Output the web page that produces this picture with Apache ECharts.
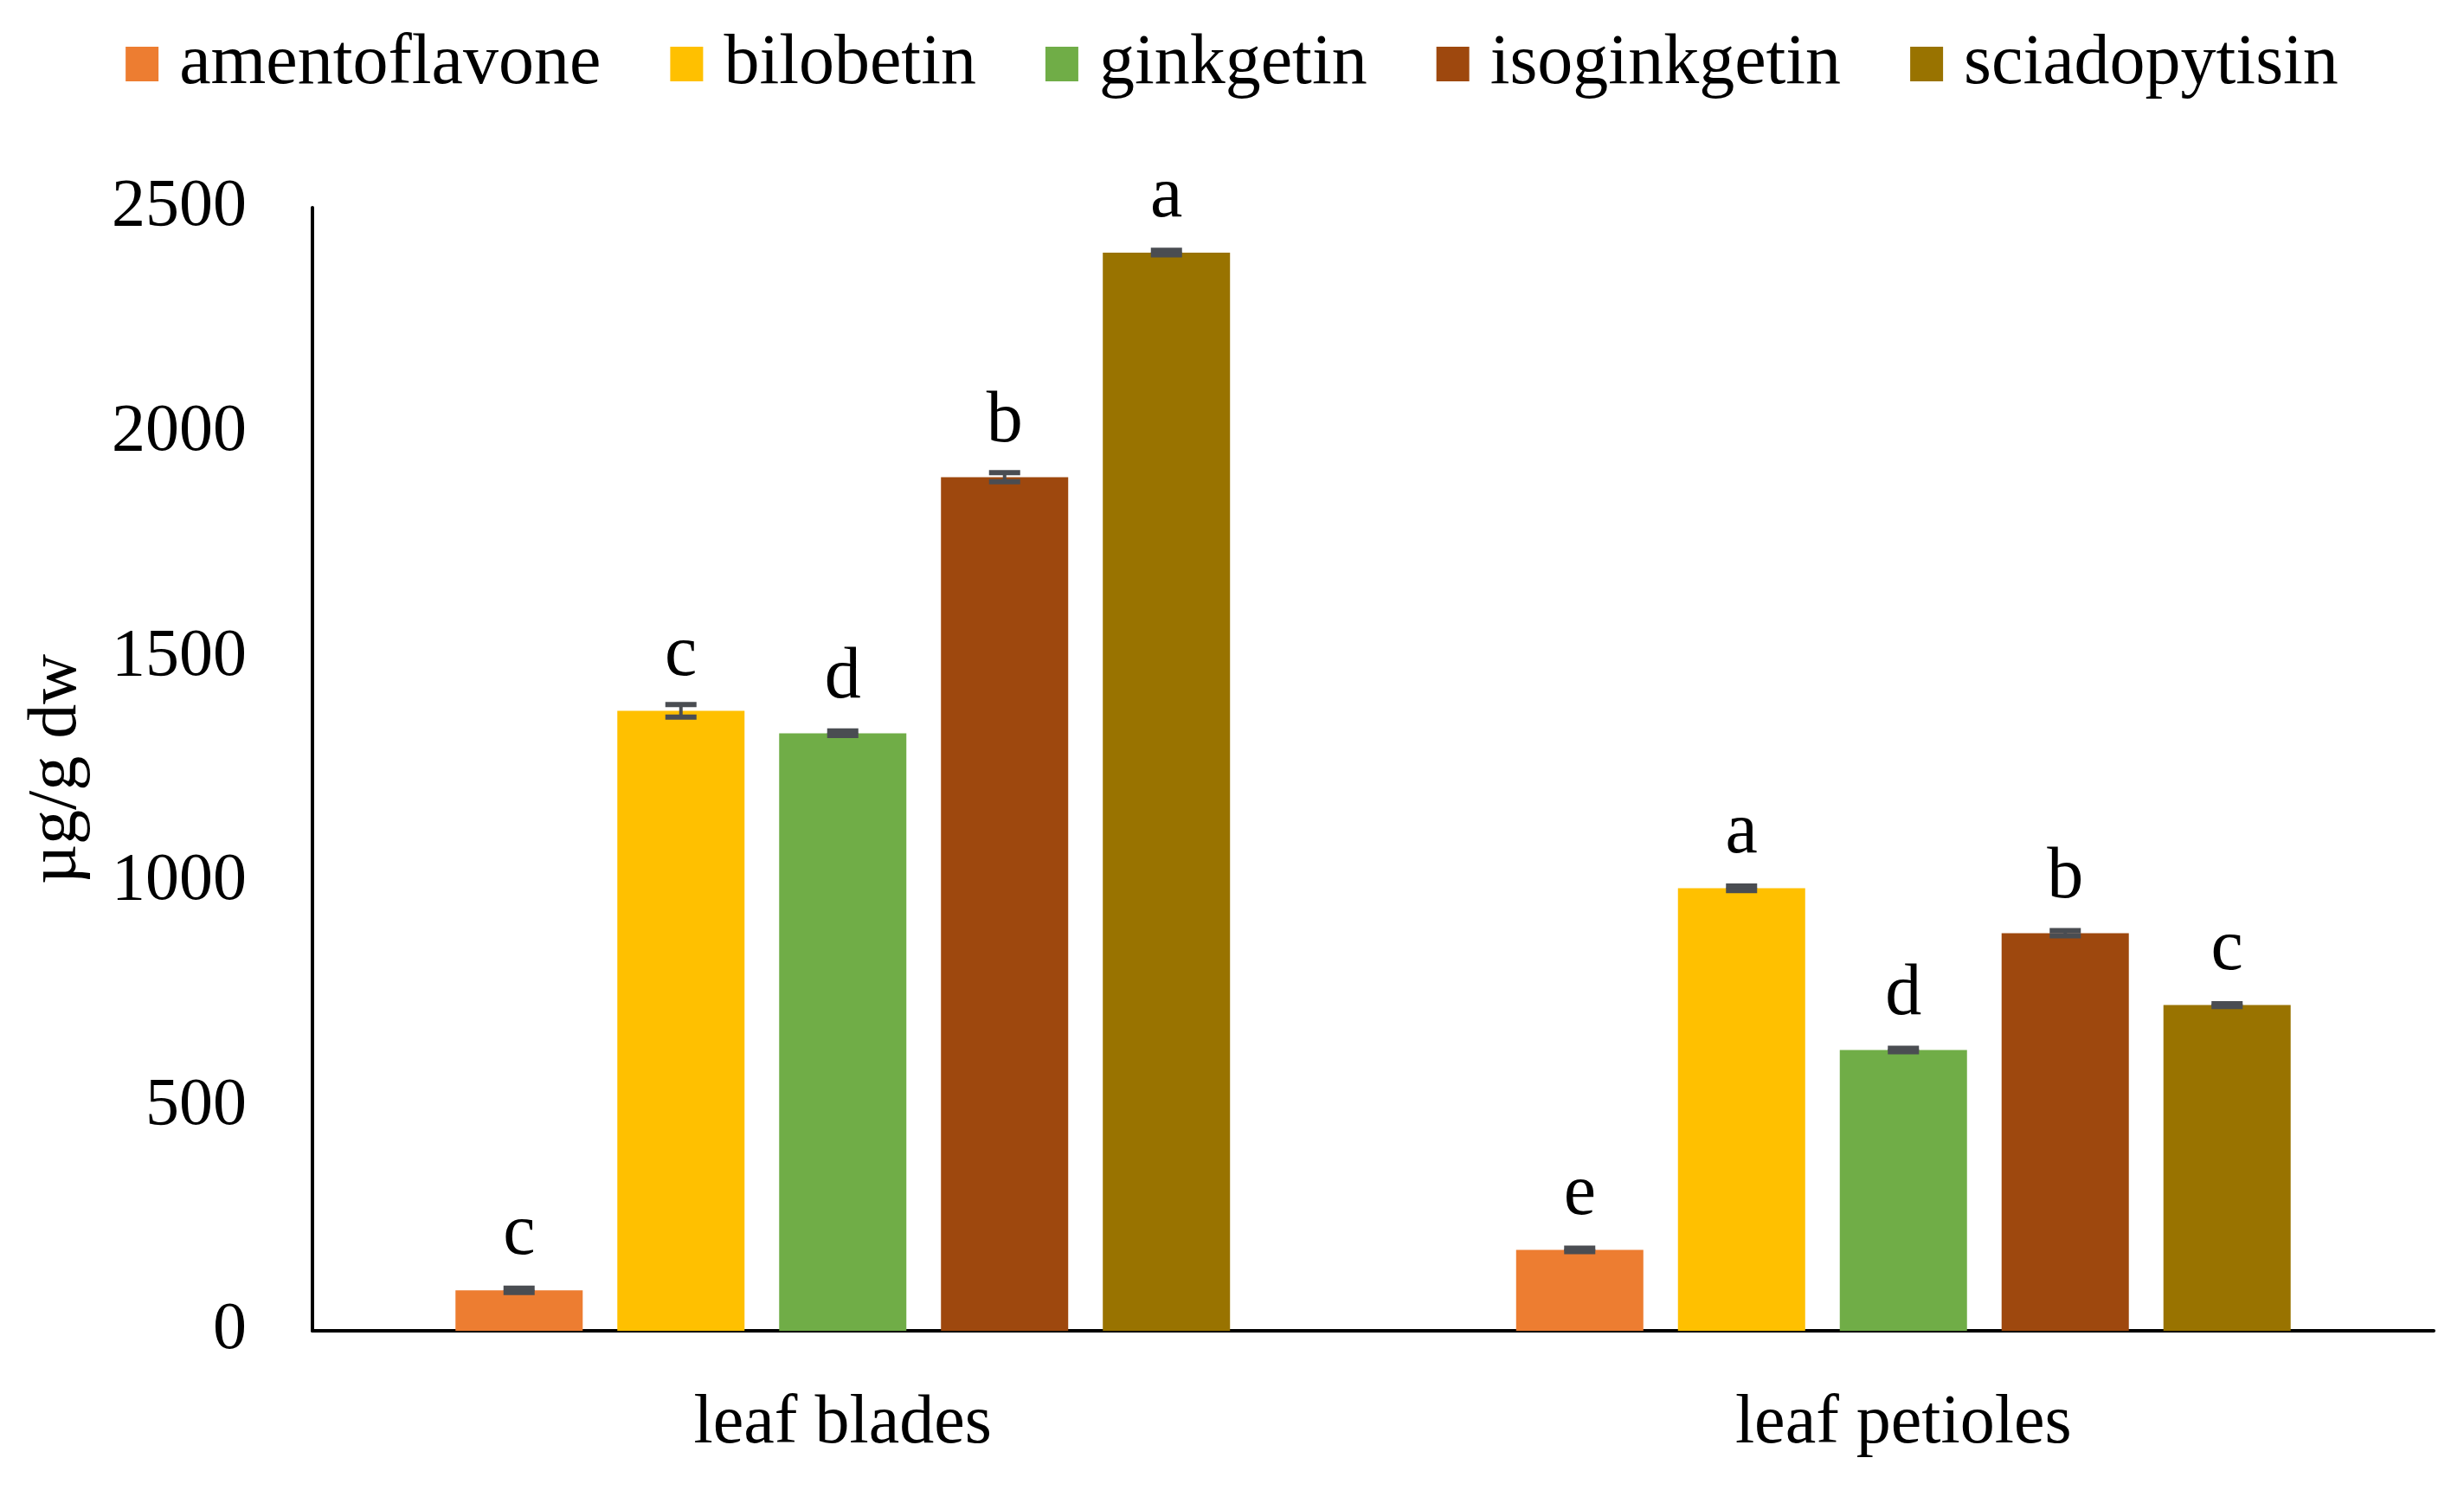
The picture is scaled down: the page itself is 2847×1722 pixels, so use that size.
<!DOCTYPE html>
<html>
<head>
<meta charset="utf-8">
<script src="https://cdn.jsdelivr.net/npm/echarts@6/dist/echarts.min.js"></script>
<style>
  html, body { margin: 0; padding: 0; background: #fff; }
  #chart { width: 2847px; height: 1722px; }
</style>
</head>
<body>
<div id="chart"></div>
<script>
// 类别 + 各化合物含量 (µg/g dw)
var categories = ['leaf blades', 'leaf petioles'];
var seriesNames = ['amentoflavone', 'bilobetin', 'ginkgetin', 'isoginkgetin', 'sciadopytisin'];
var colors = ['#ED7D31', '#FFC000', '#70AD47', '#9E480E', '#997300'];

var amentoflavone = [90, 180];
var bilobetin = [1380, 985];
var ginkgetin = [1330, 625];
var isoginkgetin = [1900, 885];
var sciadopytisin = [2400, 725];

// 误差
var errAmentoflavone = [5, 4];
var errBilobetin = [14, 5];
var errGinkgetin = [5, 4];
var errIsoginkgetin = [10, 6];
var errSciadopytisin = [5, 3];

// 显著性字母
var letAmentoflavone = ['c', 'e'];
var letBilobetin = ['c', 'a'];
var letGinkgetin = ['d', 'd'];
var letIsoginkgetin = ['b', 'b'];
var letSciadopytisin = ['a', 'c'];

var yTicks = [0, 500, 1000, 1500, 2000, 2500];

var values = [amentoflavone, bilobetin, ginkgetin, isoginkgetin, sciadopytisin];
var errors = [errAmentoflavone, errBilobetin, errGinkgetin, errIsoginkgetin, errSciadopytisin];
var letters = [letAmentoflavone, letBilobetin, letGinkgetin, letIsoginkgetin, letSciadopytisin];

var FONT = 'Liberation Serif';
var BAR_W = 147;
var BAR_GAP = 40;

var mCharts = echarts.init(document.getElementById('chart'));

var series = [];
seriesNames.forEach(function (name, i) {
  series.push({
    name: name,
    type: 'bar',
    barWidth: BAR_W,
    barGap: (BAR_GAP / BAR_W * 100).toFixed(1) + '%',
    itemStyle: { color: colors[i] },
    label: {
      show: true,
      position: 'top',
      distance: 22,
      color: '#000',
      fontFamily: FONT,
      fontSize: 84,
      formatter: function (p) { return letters[i][p.dataIndex]; }
    },
    data: values[i],
    z: 2
  });
});

// 误差线
var errData = [];
values.forEach(function (vals, s) {
  vals.forEach(function (v, c) {
    errData.push([c, s, v, errors[s][c]]);
  });
});

series.push({
  type: 'custom',
  name: 'err',
  z: 5,
  encode: { x: 0, y: 2 },
  data: errData,
  renderItem: function (params, api) {
    var c = api.value(0), s = api.value(1), v = api.value(2), e = api.value(3);
    var off = (s - 2) * (BAR_W + BAR_GAP);
    var hi = api.coord([c, v + e]);
    var lo = api.coord([c, v - e]);
    var x = hi[0] + off;
    var cap = 18;
    var st = { stroke: '#4a4d52', lineWidth: 6 };
    return {
      type: 'group',
      children: [
        { type: 'line', shape: { x1: x, y1: hi[1], x2: x, y2: lo[1] }, style: { stroke: '#4a4d52', lineWidth: 4 } },
        { type: 'line', shape: { x1: x - cap, y1: hi[1], x2: x + cap, y2: hi[1] }, style: st },
        { type: 'line', shape: { x1: x - cap, y1: lo[1], x2: x + cap, y2: lo[1] }, style: st }
      ]
    };
  }
});

var option = {
  backgroundColor: '#fff',
  animation: false,
  legend: {
    data: seriesNames,
    top: 28,
    left: 'center',
    icon: 'rect',
    itemWidth: 38,
    itemHeight: 40,
    itemGap: 80,
    textStyle: {
      fontFamily: FONT,
      fontSize: 82,
      color: '#000',
      padding: [0, 0, 0, 19]
    }
  },
  grid: { left: 361, right: 35, top: 240, bottom: 184 },
  xAxis: {
    type: 'category',
    data: categories,
    axisLine: { lineStyle: { color: '#000', width: 4 } },
    axisTick: { show: false },
    axisLabel: { fontFamily: FONT, fontSize: 80, color: '#000', margin: 68 }
  },
  yAxis: {
    type: 'value',
    min: yTicks[0],
    max: yTicks[yTicks.length - 1],
    interval: 500,
    name: 'µg/g dw',
    nameLocation: 'middle',
    nameGap: 255,
    nameTextStyle: { fontFamily: FONT, fontSize: 80, color: '#000' },
    axisLine: { show: true, lineStyle: { color: '#000', width: 4 } },
    axisTick: { show: false },
    splitLine: { show: false },
    axisLabel: {
      fontFamily: FONT, fontSize: 78, color: '#000', margin: 76,
      formatter: function (v) { return String(v); }
    }
  },
  series: series
};
mCharts.setOption(option);
</script>
</body>
</html>
